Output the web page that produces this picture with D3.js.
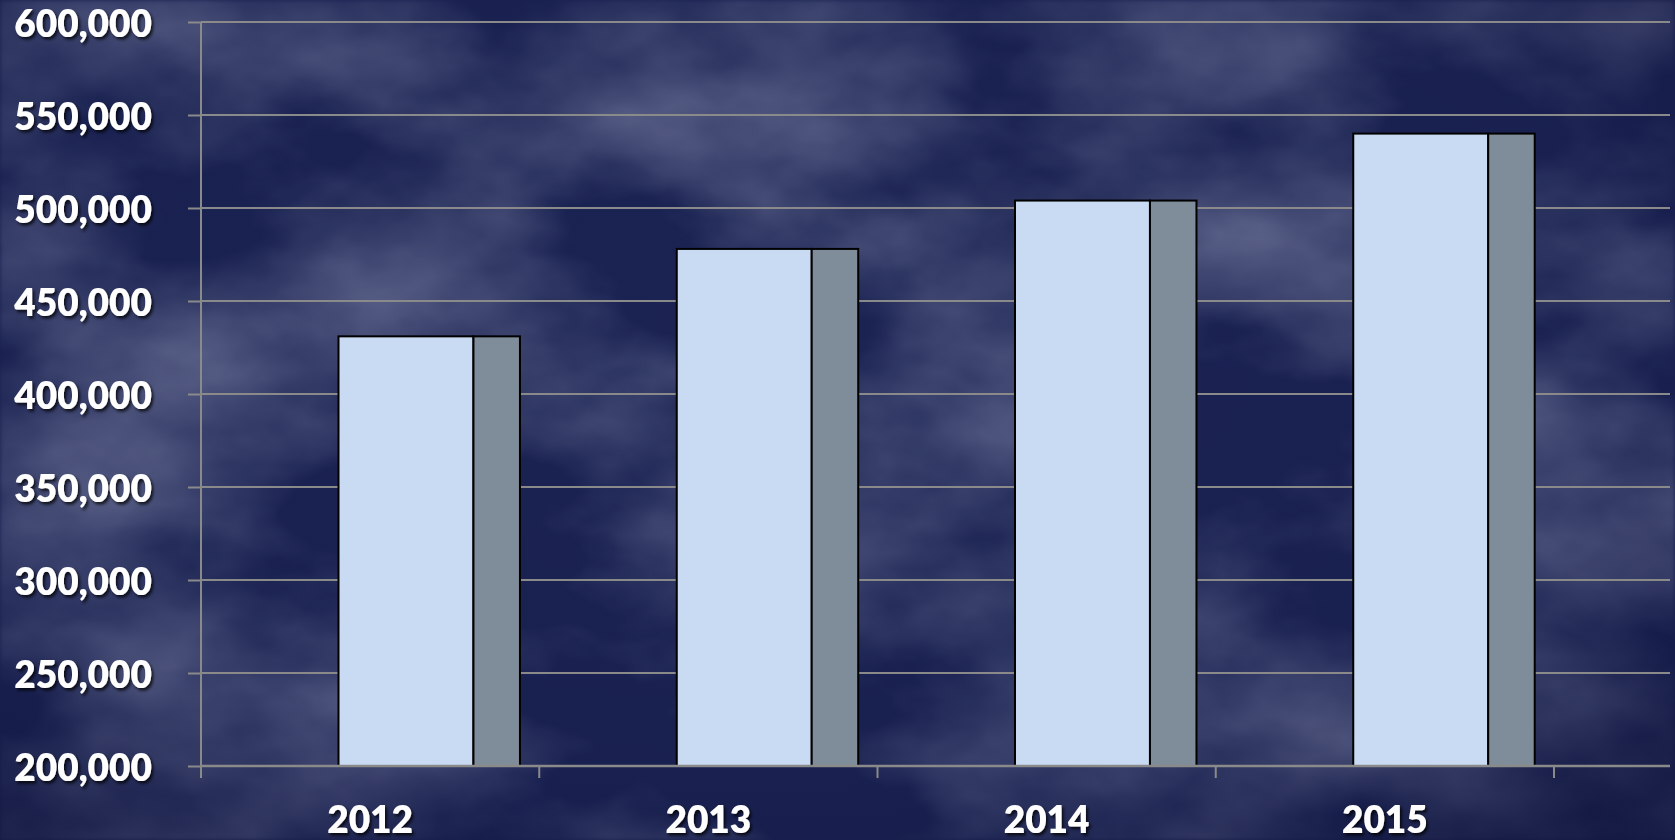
<!DOCTYPE html>
<html>
<head>
<meta charset="utf-8">
<script src="https://cdn.jsdelivr.net/npm/d3@7"></script>
<style>
  html, body { margin: 0; padding: 0; background: #1b2353; }
  svg { display: block; }
</style>
</head>
<body>
<svg id="chart" width="1675" height="840"></svg>
<script>
// ---- data ----
const years = ["2012", "2013", "2014", "2015"];
const values = [431000, 478000, 504000, 540000];
const yTickValues = [200000, 250000, 300000, 350000, 400000, 450000, 500000, 550000, 600000];

// ---- layout ----
const W = 1675, H = 840;
const plotLeft = 201, plotTop = 22, plotBottom = 766, bandRight = 1554, gridRight = 1670;

const svg = d3.select("#chart");
const defs = svg.append("defs");

// background decoration: cloudy navy sky
const cloud = defs.append("filter").attr("id", "clouds")
  .attr("x", 0).attr("y", 0).attr("width", "100%").attr("height", "100%")
  .attr("filterUnits", "userSpaceOnUse");
cloud.append("feTurbulence").attr("type", "fractalNoise")
  .attr("baseFrequency", "0.0028 0.0048").attr("numOctaves", 6).attr("seed", 7).attr("result", "n");
cloud.append("feColorMatrix").attr("type", "matrix")
  .attr("values", "0 0 0 0 0.42  0 0 0 0 0.45  0 0 0 0 0.62  2.0 0 0 0 -0.76");
cloud.append("feGaussianBlur").attr("stdDeviation", 2);

const vign = defs.append("radialGradient").attr("id", "vign")
  .attr("cx", "45%").attr("cy", "40%").attr("r", "75%");
vign.append("stop").attr("offset", "0%").attr("stop-color", "#0e1440").attr("stop-opacity", 0);
vign.append("stop").attr("offset", "70%").attr("stop-color", "#0e1440").attr("stop-opacity", 0.15);
vign.append("stop").attr("offset", "100%").attr("stop-color", "#0b1035").attr("stop-opacity", 0.55);

const shadow = defs.append("filter").attr("id", "tshadow")
  .attr("x", "-10%").attr("y", "-20%").attr("width", "130%").attr("height", "150%");
shadow.append("feDropShadow").attr("dx", 2).attr("dy", 2.5).attr("stdDeviation", 1.5)
  .attr("flood-color", "#000").attr("flood-opacity", 0.75);

svg.append("rect").attr("width", W).attr("height", H).attr("fill", "#1b2353");
svg.append("rect").attr("width", W).attr("height", H).attr("fill", "#fff").attr("filter", "url(#clouds)").attr("opacity", 0.55);
svg.append("rect").attr("width", W).attr("height", H).attr("fill", "url(#vign)");

// ---- scales ----
const y = d3.scaleLinear().domain([200000, 600000]).range([plotBottom, plotTop]);
const x = d3.scaleBand().domain(years).range([plotLeft, bandRight]).paddingInner(0).paddingOuter(0);
const bw = x.bandwidth();

const gridColor = "#8a8a8a";
const labelFont = "Lato, 'Open Sans', sans-serif";

// gridlines
svg.append("g").selectAll("line").data(yTickValues.filter(d => d !== 200000)).join("line")
  .attr("x1", plotLeft).attr("x2", gridRight)
  .attr("y1", d => y(d)).attr("y2", d => y(d))
  .attr("stroke", gridColor).attr("stroke-width", 2);

// bars: front face and side face
const bars = svg.append("g").selectAll("g").data(years.map((yr, i) => ({ yr, v: values[i] }))).join("g");
bars.append("rect")
  .attr("x", d => x(d.yr) + bw * 0.4065)
  .attr("width", bw * 0.399)
  .attr("y", d => y(d.v))
  .attr("height", d => y(200000) - y(d.v))
  .attr("fill", "#c8dbf2").attr("stroke", "#000").attr("stroke-width", 2);
bars.append("rect")
  .attr("x", d => x(d.yr) + bw * 0.8055)
  .attr("width", bw * 0.1375)
  .attr("y", d => y(d.v))
  .attr("height", d => y(200000) - y(d.v))
  .attr("fill", "#7f8c99").attr("stroke", "#000").attr("stroke-width", 2);

// y axis
const yAxis = svg.append("g").attr("transform", `translate(${plotLeft},0)`)
  .call(d3.axisLeft(y).tickValues(yTickValues).tickFormat(d3.format(",")).tickSize(13).tickPadding(36));
yAxis.select(".domain").remove();
yAxis.selectAll(".tick line").attr("stroke", gridColor).attr("stroke-width", 2);
yAxis.selectAll(".tick text")
  .attr("fill", "#fff").attr("font-family", labelFont)
  .attr("font-weight", 800).attr("font-size", 37)
  .attr("dy", "0.36em").attr("transform", "translate(0,1.5)")
  .attr("filter", "url(#tshadow)");

// vertical axis line
svg.append("line").attr("x1", plotLeft).attr("x2", plotLeft)
  .attr("y1", plotTop).attr("y2", plotBottom + 12)
  .attr("stroke", gridColor).attr("stroke-width", 2);

// x axis baseline
svg.append("line").attr("x1", plotLeft).attr("x2", gridRight)
  .attr("y1", y(200000)).attr("y2", y(200000))
  .attr("stroke", gridColor).attr("stroke-width", 2.5);

// x boundary ticks
const boundaries = years.map(d => x(d) + bw);
svg.append("g").selectAll("line").data(boundaries).join("line")
  .attr("x1", d => d).attr("x2", d => d)
  .attr("y1", plotBottom).attr("y2", plotBottom + 12)
  .attr("stroke", gridColor).attr("stroke-width", 2);

// x labels
const xAxis = svg.append("g").attr("transform", `translate(0,${plotBottom})`)
  .call(d3.axisBottom(x).tickSize(0).tickPadding(41));
xAxis.select(".domain").remove();
xAxis.selectAll(".tick text")
  .attr("fill", "#fff").attr("font-family", labelFont)
  .attr("font-weight", 800).attr("font-size", 37).attr("filter", "url(#tshadow)");
</script>
</body>
</html>
